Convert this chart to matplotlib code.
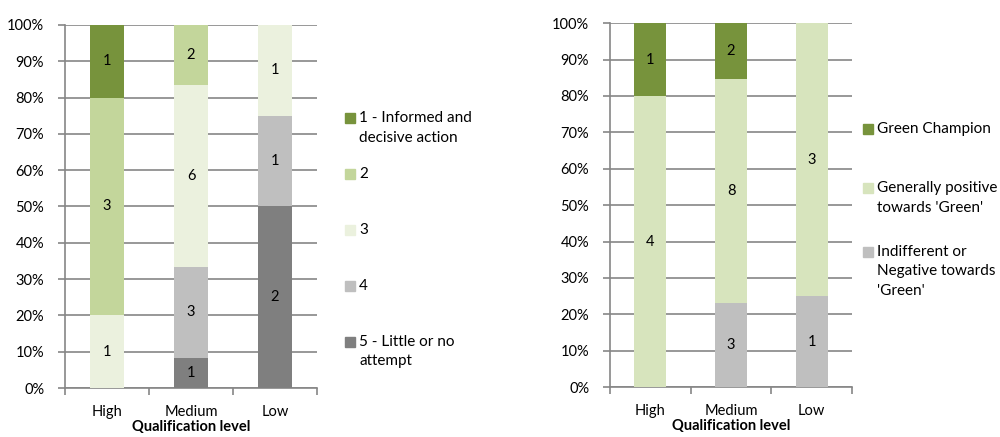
import matplotlib.pyplot as plt
from matplotlib.patches import Rectangle
from matplotlib.ticker import PercentFormatter, FixedLocator
import numpy as np

plt.rcParams['font.family'] = ['Lato', 'DejaVu Sans']
plt.rcParams['font.size'] = 10.5

# Dados: contagens por nível de qualificação
niveis = ["High", "Medium", "Low"]

# Gráfico esquerdo (de baixo para cima: 5 -> 1)
rotulos_acao = ["5 - Little or no\nattempt", "4", "3", "2", "1 - Informed and\ndecisive action"]
acao_5 = [0, 1, 2]
acao_4 = [0, 3, 1]
acao_3 = [1, 6, 1]
acao_2 = [3, 2, 0]
acao_1 = [1, 0, 0]
cores_acao = ["#7F7F7F", "#BFBFBF", "#EBF1DE", "#C3D69B", "#77933C"]

# Gráfico direito (de baixo para cima)
rotulos_verde = ["Indifferent or\nNegative towards\n'Green'", "Generally positive\ntowards 'Green'", "Green Champion"]
indiferente = [0, 3, 1]
positivo = [4, 8, 3]
campeao = [1, 2, 0]
cores_verde = ["#BFBFBF", "#D7E4BD", "#77933C"]

COR_GRADE = "#868686"


def empilhar(ax, series, cores):
    dados = np.array(series, dtype=float)
    totais = dados.sum(axis=0)
    fracoes = dados / totais
    x = np.arange(len(niveis))
    base = np.zeros(len(niveis))
    for valores, frac, cor in zip(dados, fracoes, cores):
        ax.bar(x, frac, 0.4, bottom=base, color=cor, zorder=3)
        for xi, v, f, b in zip(x, valores, frac, base):
            if v > 0:
                ax.text(xi, b + f / 2, f"{int(v)}", ha="center", va="center",
                        color="black", zorder=4)
        base = base + frac

    ax.set_xlim(-0.5, len(niveis) - 0.5)
    ax.set_ylim(0, 1)
    ax.set_yticks(np.arange(0, 1.01, 0.1))
    ax.yaxis.set_major_formatter(PercentFormatter(1.0, decimals=0))
    ax.yaxis.grid(True, color=COR_GRADE, linewidth=1.2, zorder=0)
    ax.set_xticks(x)
    ax.set_xticklabels(niveis)
    ax.xaxis.set_minor_locator(FixedLocator(np.arange(-0.5, len(niveis), 1)))
    ax.tick_params(axis="x", which="major", length=0, pad=12)
    ax.tick_params(axis="x", which="minor", length=5, color=COR_GRADE, width=1.2)
    ax.tick_params(axis="y", length=5, color=COR_GRADE, width=1.2, pad=10)
    for lado in ["top", "right"]:
        ax.spines[lado].set_visible(False)
    for lado in ["left", "bottom"]:
        ax.spines[lado].set_color(COR_GRADE)
        ax.spines[lado].set_linewidth(1.2)
    ax.set_xlabel("Qualification level", fontweight="bold", labelpad=1)


def legenda(fig, rotulos, cores, x_px, y_px):
    W, H = 1000, 437
    for rot, cor, yc in zip(rotulos, cores, y_px):
        fig.add_artist(Rectangle(((x_px - 14) / W, 1 - (yc + 5) / H), 10 / W, 10 / H,
                                 transform=fig.transFigure, color=cor))
        fig.text(x_px / W, 1 - (yc - 7) / H, rot, ha="left", va="top",
                 linespacing=1.5, fontsize=11)


fig = plt.figure(figsize=(10, 4.37), dpi=100)

ax1 = fig.add_axes([0.065, 0.112, 0.252, 0.831])
empilhar(ax1, [acao_5, acao_4, acao_3, acao_2, acao_1], cores_acao)
legenda(fig, rotulos_acao[::-1], cores_acao[::-1], 359, [118, 174, 230, 286, 342])

ax2 = fig.add_axes([0.610, 0.114, 0.242, 0.833])
empilhar(ax2, [indiferente, positivo, campeao], cores_verde)
legenda(fig, rotulos_verde[::-1], cores_verde[::-1], 877, [129, 188, 252])

fig.savefig("out.png", dpi=100)
